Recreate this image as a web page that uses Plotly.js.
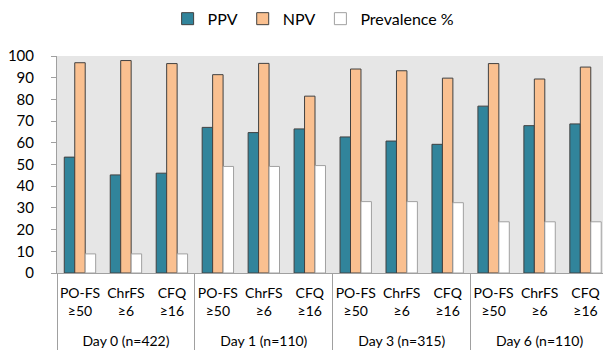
<!DOCTYPE html>
<html><head><meta charset="utf-8">
<script src="https://cdn.plot.ly/plotly-3.0.1.min.js"></script>
<style>html,body{margin:0;padding:0;background:#fff;}#chart{width:603px;height:352px;}</style>
</head><body><div id="chart"></div>
<script>
const days = ["Day 0 (n=422)","Day 0 (n=422)","Day 0 (n=422)","Day 1 (n=110)","Day 1 (n=110)","Day 1 (n=110)","Day 3 (n=315)","Day 3 (n=315)","Day 3 (n=315)","Day 6 (n=110)","Day 6 (n=110)","Day 6 (n=110)"];
const measures = ["PO-FS<br>≥50","ChrFS<br>≥6","CFQ<br>≥16","PO-FS<br>≥50","ChrFS<br>≥6","CFQ<br>≥16","PO-FS<br>≥50","ChrFS<br>≥6","CFQ<br>≥16","PO-FS<br>≥50","ChrFS<br>≥6","CFQ<br>≥16"];
const ppv = [53.4,45.2,46.0,67.1,64.7,66.4,62.7,60.8,59.3,76.9,67.9,68.7];
const npv = [96.9,97.9,96.5,91.4,96.6,81.5,94.0,93.2,89.8,96.5,89.4,94.9];
const prevalence = [8.8,8.8,8.8,49.1,49.1,49.5,32.9,32.9,32.4,23.6,23.6,23.6];
const yTicks = [0,10,20,30,40,50,60,70,80,90,100];

// leading line break pushes the outer (day) labels below the two-line inner labels
const x = [days.map(d => '<br>' + d), measures];
const traces = [
  {type:'bar', name:'PPV', x:x, y:ppv, marker:{color:'#31849B', line:{color:'#404040', width:1}}},
  {type:'bar', name:'NPV', x:x, y:npv, marker:{color:'#FAC090', line:{color:'#404040', width:1}}},
  {type:'bar', name:'Prevalence %', x:x, y:prevalence, marker:{color:'#FFFFFF', line:{color:'#A0A0A0', width:1}}}
];
const layout = {
  width:603, height:352,
  margin:{l:57, r:0, t:56, b:79},
  paper_bgcolor:'#FFFFFF', plot_bgcolor:'#E6E6E6',
  font:{family:'Lato, "Open Sans", sans-serif', size:15, color:'#000'},
  barmode:'group', bargap:0.317, bargroupgap:0,
  showlegend:true,
  legend:{orientation:'h', x:0.47, xanchor:'center', y:0.995, yanchor:'top', yref:'container',
          font:{size:16}, itemwidth:30, tracegroupgap:0},
  xaxis:{type:'multicategory', showline:true, linecolor:'#A0A0A0', linewidth:1, ticks:'', showgrid:false,
         showdividers:true, dividercolor:'#A0A0A0', dividerwidth:1, tickfont:{size:14}, tickangle:0,
         ticklabelstandoff:7, range:[-0.5, 11.38]},
  yaxis:{range:[0,100], tickvals:yTicks, showgrid:false, zeroline:false, showline:true, linecolor:'#A0A0A0', linewidth:1,
         ticks:'outside', ticklen:5, tickcolor:'#A0A0A0', tickfont:{size:15}, ticklabelstandoff:14}
};
Plotly.newPlot('chart', traces, layout, {displayModeBar:false, staticPlot:true});
</script></body></html>
